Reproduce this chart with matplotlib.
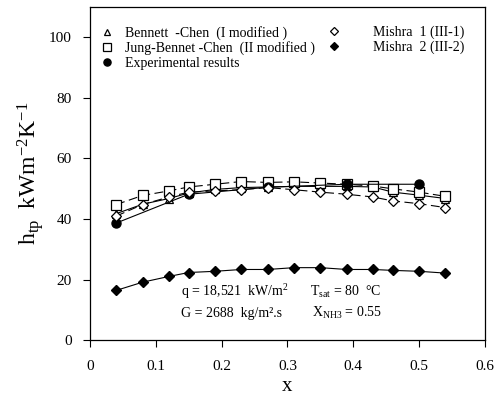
import numpy as np
import matplotlib.pyplot as plt

plt.rcParams['font.family'] = ['Liberation Serif', 'DejaVu Serif']
plt.rcParams['mathtext.fontset'] = 'custom'
plt.rcParams['mathtext.rm'] = 'Liberation Serif'
plt.rcParams['mathtext.it'] = 'Liberation Serif:italic'

# quality x
x = [0.04, 0.08, 0.12, 0.15, 0.19, 0.23, 0.27, 0.31, 0.35, 0.39, 0.43, 0.46, 0.50, 0.54]

bennett_chen = [41.8, 44.9, 46.8, 48.6, 49.8, 50.4, 50.6, 50.8, 50.8, 50.8, 50.6, 48.9, 47.9, 46.8]
jung_bennett_chen = [44.8, 47.8, 49.3, 50.6, 51.5, 52.4, 52.1, 52.3, 51.9, 51.5, 50.9, 50.0, 48.9, 47.5]
mishra1 = [41.0, 44.8, 47.3, 48.9, 49.3, 49.7, 50.4, 49.7, 48.9, 48.2, 47.3, 46.0, 45.1, 43.8]
mishra2 = [16.5, 19.2, 21.1, 22.4, 22.8, 23.4, 23.4, 24.0, 24.0, 23.4, 23.4, 23.1, 22.8, 22.2]

x_exp = [0.04, 0.15, 0.27, 0.39, 0.50]
experimental = [38.7, 48.2, 50.5, 51.5, 51.5]

fig = plt.figure(figsize=(5.02, 4.01), dpi=100)
ax = fig.add_axes([0.179, 0.151, 0.787, 0.832])

l1, = ax.plot(x, bennett_chen, '-', color='black', lw=0.8, marker='^', ms=6,
              mfc='white', mec='black', mew=0.9)
l2, = ax.plot(x, jung_bennett_chen, '--', color='black', lw=0.8, dashes=(8, 4), marker='s', ms=6.5,
              mfc='white', mec='black', mew=0.9)
l3, = ax.plot(x_exp, experimental, '-', color='black', lw=0.8, marker='o', ms=6.5,
              mfc='black', mec='black')
l4, = ax.plot(x, mishra1, '--', color='black', lw=0.8, dashes=(8, 4), marker='D', ms=5,
              mfc='white', mec='black', mew=0.9)
l5, = ax.plot(x, mishra2, '-', color='black', lw=0.8, marker='D', ms=5.5,
              mfc='black', mec='black')

ax.set_xlim(0, 0.6)
ax.set_ylim(0, 110)
ax.set_xticks([0, 0.1, 0.2, 0.3, 0.4, 0.5, 0.6])
ax.set_xticklabels(['0', '0.1', '0.2', '0.3', '0.4', '0.5', '0.6'])
ax.set_yticks([0, 20, 40, 60, 80, 100])
ax.tick_params(direction='out', length=5, width=0.8, labelsize=11)
ax.tick_params(axis='x', pad=9)
ax.tick_params(axis='y', pad=8)
for s in ax.spines.values():
    s.set_linewidth(0.9)

ax.set_xlabel('x', fontsize=15, labelpad=3)
ax.set_ylabel(r'$\mathregular{h_{tp}\ \ kWm^{-2}K^{-1}}$', fontsize=17, labelpad=2)


def key(line, scale=0.8):
    return plt.Line2D([], [], ls='none', marker=line.get_marker(),
                      ms=line.get_markersize() * scale, mfc=line.get_markerfacecolor(),
                      mec='black', mew=0.9)


leg1 = ax.legend([key(l1), key(l2), key(l3)],
                 ['Bennett  -Chen  (I modified )', 'Jung-Bennet -Chen  (II modified )',
                  'Experimental results'],
                 loc='upper left', bbox_to_anchor=(0.0, 0.972), frameon=False,
                 fontsize=10, handlelength=1.0, handletextpad=0.8,
                 labelspacing=0.1, borderaxespad=0.3)
ax.add_artist(leg1)
ax.legend([key(l4), key(l5)], ['Mishra  1 (III-1)', 'Mishra  2 (III-2)'],
          loc='upper left', bbox_to_anchor=(0.577, 0.972), frameon=False,
          fontsize=10, handlelength=1.0, handletextpad=2.3,
          labelspacing=0.1, borderaxespad=0.3)

ax.text(0.231, 0.133, r'q = 18,521  kW/m$^{\mathregular{2}}$', transform=ax.transAxes, fontsize=10)
ax.text(0.557, 0.133, r'T$_{\mathregular{sat}}$ = 80  °C', transform=ax.transAxes, fontsize=10)
ax.text(0.231, 0.07, 'G = 2688  kg/m².s', transform=ax.transAxes, fontsize=10)
ax.text(0.562, 0.07, r'X$_{\mathregular{NH3}}$ = 0.55', transform=ax.transAxes, fontsize=10)

fig.savefig('out.png', dpi=100)
